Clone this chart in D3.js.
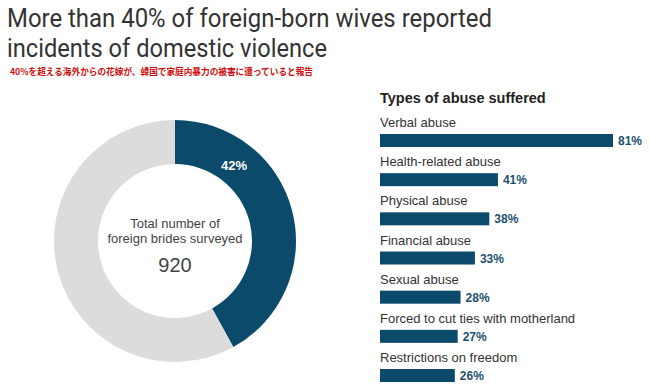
<!DOCTYPE html>
<html><head><meta charset="utf-8">
<script src="https://cdn.jsdelivr.net/npm/d3@7"></script>
<style>
html,body{margin:0;padding:0;background:#fff;}
svg{display:block;}
</style></head>
<body>
<svg id="chart" width="650" height="388"></svg>
<script>
const titleLines = ["More than 40% of foreign-born wives reported", "incidents of domestic violence"];
const titleWidths = [485, 320];
const subtitle = "40%を超える海外からの花嫁が、韓国で家庭内暴力の被害に遭っていると報告";
const donutLabels = ["Reported violence", "Other"];
const donutValues = [42, 58];
const centerLines = ["Total number of", "foreign brides surveyed"];
const totalSurveyed = 920;
const barHeader = "Types of abuse suffered";
const categories = ["Verbal abuse", "Health-related abuse", "Physical abuse", "Financial abuse", "Sexual abuse", "Forced to cut ties with motherland", "Restrictions on freedom"];
const values = [81, 41, 38, 33, 28, 27, 26];

const navy = "#0c4a6c", grey = "#dcdcdc", textCol = "#333333";
const font = "'Liberation Sans', Arial, Helvetica, sans-serif";
const svg = d3.select("#chart").style("font-family", font);

// Title
svg.selectAll("text.title").data(titleLines).join("text")
  .attr("class", "title")
  .attr("x", 7).attr("y", (d, i) => 27 + i * 30)
  .attr("font-family", "Roboto, 'Liberation Sans', sans-serif")
  .attr("font-weight", 400)
  .attr("font-size", 25.5).attr("fill", "#333")
  .attr("textLength", (d, i) => titleWidths[i]).attr("lengthAdjust", "spacingAndGlyphs")
  .text(d => d);

svg.append("text")
  .attr("x", 10).attr("y", 75)
  .attr("font-family", "'Noto Sans CJK JP', sans-serif")
  .attr("font-size", 9.5).attr("font-weight", "bold").attr("fill", "#d01010")
  .attr("textLength", 303).attr("lengthAdjust", "spacingAndGlyphs")
  .text(subtitle);

// Donut
const cx = 175, cy = 241, rOuter = 121, rInner = 77;
const pie = d3.pie().sort(null).value(d => d);
const arc = d3.arc().innerRadius(rInner).outerRadius(rOuter);
const g = svg.append("g").attr("transform", `translate(${cx},${cy})`);
const arcs = pie(donutValues);
g.selectAll("path").data(arcs).join("path")
  .attr("d", arc)
  .attr("fill", (d, i) => i === 0 ? navy : grey);

g.append("text")
  .attr("x", 59).attr("y", -71)
  .attr("text-anchor", "middle")
  .attr("font-size", 13).attr("font-weight", "bold").attr("fill", "#fff")
  .text(donutValues[0] + "%");

g.selectAll("text.center").data(centerLines).join("text")
  .attr("class", "center")
  .attr("x", 0).attr("y", (d, i) => -13 + i * 15)
  .attr("text-anchor", "middle")
  .attr("font-size", 13).attr("fill", "#444")
  .text(d => d);

g.append("text")
  .attr("x", 0).attr("y", 31)
  .attr("text-anchor", "middle")
  .attr("font-size", 20).attr("fill", "#444")
  .text(totalSurveyed);

// Bars
const x = d3.scaleLinear().domain([0, 81]).range([380, 613]);
const y = d3.scaleBand().domain(categories).range([115, 115 + 7 * 39.17]).padding(0);
const barH = 13;

svg.append("text")
  .attr("x", 380).attr("y", 103)
  .attr("font-size", 14.5).attr("font-weight", "bold").attr("fill", "#222")
  .text(barHeader);

const rows = svg.selectAll("g.row").data(categories.map((c, i) => ({c, v: values[i]}))).join("g").attr("class", "row");
rows.append("text")
  .attr("x", 380).attr("y", d => y(d.c) + 12)
  .attr("font-size", 13).attr("fill", textCol)
  .text(d => d.c);
rows.append("rect")
  .attr("x", x(0)).attr("y", d => y(d.c) + 19)
  .attr("width", d => x(d.v) - x(0)).attr("height", barH)
  .attr("fill", navy);
rows.append("text")
  .attr("x", d => x(d.v) + 5).attr("y", d => y(d.c) + 19 + barH / 2 + 4.5)
  .attr("font-size", 12).attr("font-weight", "bold").attr("fill", "#1d4f6e")
  .text(d => d.v + "%");
</script>
</body></html>
